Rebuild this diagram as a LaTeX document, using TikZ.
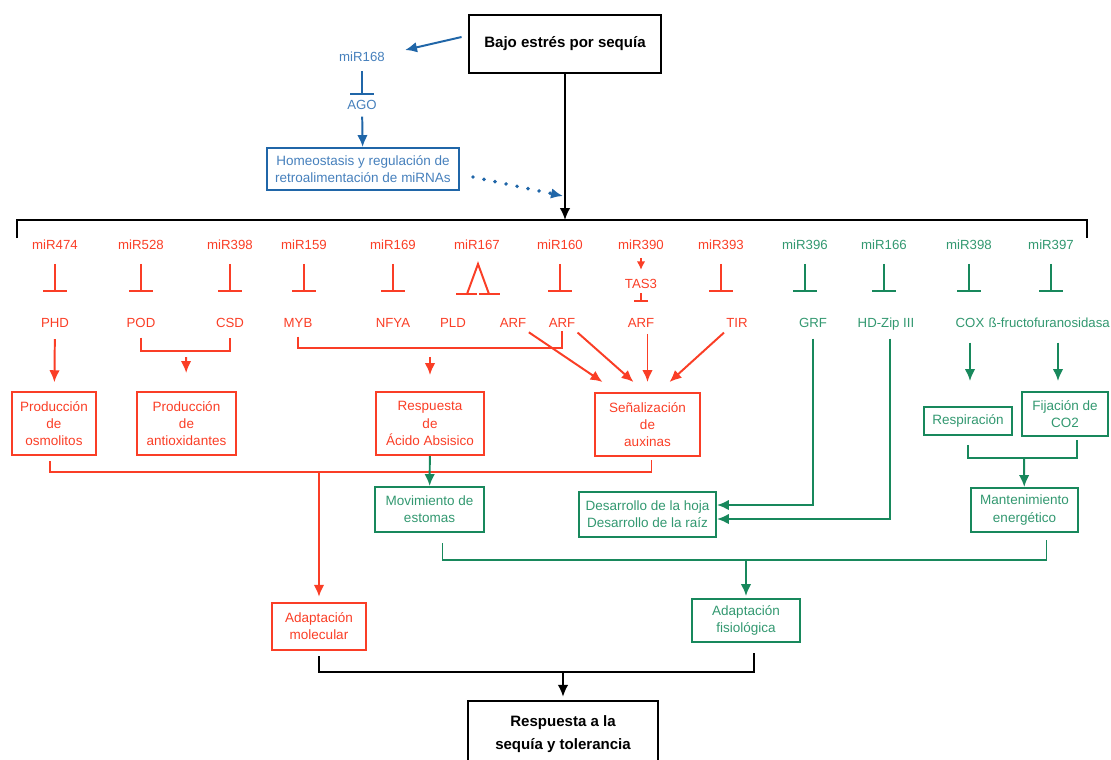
\documentclass[tikz,border=0pt]{standalone}
\usepackage{fontspec}
\setmainfont{Liberation Sans}
\usetikzlibrary{arrows.meta}
\usetikzlibrary{positioning}
\usetikzlibrary{calc}
\definecolor{sqred}{RGB}{250,62,38}
\definecolor{sqgreen}{RGB}{24,136,92}
\definecolor{sqgreentxt}{RGB}{50,152,112}
\definecolor{sqblue}{RGB}{32,102,168}
\definecolor{sqbluetxt}{RGB}{70,128,188}

\tikzset{
  lbl/.style={inner sep=0pt, text height=1.6ex, text depth=.4ex, font=\fontsize{9.4}{11}\selectfont},
  box/.style={draw, line width=1.4pt, align=center, inner sep=1pt, font=\fontsize{9.6}{12.2}\selectfont},
  redbox/.style={box, draw=sqred, text=sqred},
  greenbox/.style={box, draw=sqgreen, text=sqgreentxt},
  bigbox/.style={draw=black, line width=2pt, align=center, font=\fontsize{10.7}{16}\selectfont\bfseries},
  redline/.style={draw=sqred, line width=1.4pt},
  greenline/.style={draw=sqgreen, line width=1.4pt},
  inhib/.style={-{Bar[width=17pt]}, shorten <=0.28cm, shorten >=0.58cm},
  >={Latex[length=8.5pt,width=7.5pt]}
}

\begin{document}
\begin{tikzpicture}[x=0.025cm, y=-0.025cm]
  \useasboundingbox (0,0) rectangle (1111,759);

  % stress and miR168 loop
  \node[bigbox, minimum width=4.8cm, minimum height=1.45cm] (stress) at (565,44) {Bajo estrés por sequía};
  \begin{scope}[every node/.style={lbl, text=sqbluetxt}]
    \node (mir168) at (362,57) {miR168};
    \node (ago) at (362,105) {AGO};
  \end{scope}
  \node[box, draw=sqblue, text=sqbluetxt, minimum width=4.8cm, minimum height=1.05cm] (homeo) at (363,169)
    {Homeostasis y regulación de\\retroalimentación de miRNAs};
  \coordinate (fb) at (563,196);
  \coordinate (split) at (565,220);
  \coordinate (bl) at (17,238);
  \coordinate (br) at (1087,238);
  \begin{scope}[every edge/.style={draw=sqblue, line width=1.4pt, ->}]
    \path ($(stress.west)+(-6,-7)$) edge ($(mir168.east)+(20,-7)$);
    \path (mir168) edge[-{Bar[width=17pt]}, shorten <=0.16cm, shorten >=0.06cm] (ago);
    \path (ago) edge[shorten <=0.1cm] (homeo);
    \path ($(homeo.east)+(13,8)$) edge[line width=2.8pt, line cap=round, dash pattern=on 0pt off 8pt] (fb);
  \end{scope}
  \path (stress) edge[draw=black, line width=1.2pt, ->] (split);
  \draw[line width=1.2pt] (bl) -- ++(0,-18) -| (br);

  % miRNAs and targets
  \begin{scope}[every node/.style={lbl, text=sqred}]
    \node (m474) at (55,245) {miR474};
    \node (m528) at (141,245) {miR528};
    \node (m398a) at (230,245) {miR398};
    \node (m159) at (304,245) {miR159};
    \node (m169) at (393,245) {miR169};
    \node (m167) at (477,245) {miR167};
    \node (m160) at (560,245) {miR160};
    \node (m390) at (641,245) {miR390};
    \node (m393) at (721,245) {miR393};
    \node (tas3) at (641,284) {TAS3};
    \node (phd) at (55,323) {PHD};
    \node (pod) at (141,323) {POD};
    \node (csd) at (230,323) {CSD};
    \node (myb) at (298,323) {MYB};
    \node (nfya) at (393,323) {NFYA};
    \node (pld) at (453,323) {PLD};
    \node (arfA) at (513,323) {ARF};
    \node (arfB) at (562,323) {ARF};
    \node (arfC) at (641,323) {ARF};
    \node (tir) at (737,323) {TIR};
  \end{scope}
  \begin{scope}[every node/.style={lbl, text=sqgreentxt}]
    \node (m396) at (805,245) {miR396};
    \node (m166) at (884,245) {miR166};
    \node (m398b) at (969,245) {miR398};
    \node (m397) at (1051,245) {miR397};
    \node (grf) at (813,323) {GRF};
    \node (hdzip) at (886,323) {HD-Zip III};
    \node (cox) at (970,323) {COX};
    \node[anchor=east] (bfruc) at (1110,323) {ß-fructofuranosidasa};
  \end{scope}

  % boxes
  \node[redbox, minimum width=2.1cm, minimum height=1.575cm] (osmo) at (54,423.5) {Producción\\de\\osmolitos};
  \node[redbox, minimum width=2.475cm, minimum height=1.575cm] (antiox) at (186.5,423.5) {Producción\\de\\antioxidantes};
  \node[redbox, minimum width=2.7cm, minimum height=1.575cm] (aba) at (430,423.5) {Respuesta\\de\\Ácido Absisico};
  \node[redbox, minimum width=2.625cm, minimum height=1.575cm] (auxin) at (647.5,424.5) {Señalización\\de\\auxinas};
  \node[greenbox, minimum width=2.2cm, minimum height=0.7cm] (resp) at (968,421) {Respiración};
  \node[greenbox, minimum width=2.15cm, minimum height=1.1cm] (fija) at (1065,414) {Fijación de\\CO2};
  \node[greenbox, minimum width=2.725cm, minimum height=1.125cm] (estomas) at (429.5,509.5) {Movimiento de\\estomas};
  \node[greenbox, minimum width=3.425cm, minimum height=1.125cm] (desarrollo) at (647.5,514.5) {Desarrollo de la hoja\\Desarrollo de la raíz};
  \node[greenbox, minimum width=2.675cm, minimum height=1.1cm] (energia) at (1024.5,510) {Mantenimiento\\energético};
  \node[redbox, minimum width=2.35cm, minimum height=1.175cm] (molec) at (319,626.5) {Adaptación\\molecular};
  \node[greenbox, minimum width=2.7cm, minimum height=1.075cm] (fisio) at (746,620.5) {Adaptación\\fisiológica};
  \node[bigbox, minimum width=4.75cm, minimum height=1.65cm] (respuesta) at (563,734) {Respuesta a la\\sequía y tolerancia};

  \coordinate (apex) at (478,264);
  \coordinate (lleg) at (467,294);
  \coordinate (rleg) at (489,294);
  \coordinate (podmid) at (186,351);
  \coordinate (mybmid) at (430,348);
  \coordinate (redmid) at (319,471);
  \coordinate (rfmid) at (1024,458);
  \coordinate (greenmid) at (746,560);
  \coordinate (blackmid) at (563,672);
  \coordinate (fjin) at ($(fija.north)+(-7,0)$);

  % red paths
  \begin{scope}[every edge/.style={draw=sqred, line width=1.4pt, ->}]
    \foreach \m/\g in {m474/phd, m528/pod, m398a/csd, m159/myb, m169/nfya, m160/arfB, m393/tir}
      \path (\m.south) edge[inhib] (\m.south |- \g.north);
    \path (m390) edge[-{Latex[length=6pt,width=6pt]}, shorten <=0.13cm, shorten >=0.16cm] (tas3);
    \path (tas3) edge[-{Bar[width=10pt]}, shorten <=0.04cm, shorten >=0.33cm] (arfC);
    \path (phd) edge[shorten <=0.21cm, shorten >=0.22cm] (osmo);
    \path (podmid) edge[shorten <=0.15cm, shorten >=0.45cm] (antiox);
    \path (mybmid) edge[shorten <=0.22cm, shorten >=0.4cm] (aba);
    \path (arfA.south east) edge[shorten <=2pt] ($(auxin.north)+(-45,-10)$);
    \path (arfB.south east) edge[shorten <=2pt] ($(auxin.north)+(-14,-10)$);
    \path (arfC.south -| auxin.north) edge[shorten <=0.08cm] ($(auxin.north)+(0,-10)$);
    \path (tir.south west) edge[shorten <=2pt] ($(auxin.north)+(22,-10)$);
    \path (redmid) edge[shorten >=0.13cm] (molec);
  \end{scope}
  \draw[redline] (lleg) -- (apex) -- (rleg);
  \draw[redline] ($(lleg)+(-11,0)$) -- ++(21,0) ($(rleg)+(-10,0)$) -- ++(21,0);
  \draw[redline] ($(pod.south)+(0,7)$) |- (podmid) -| ($(csd.south)+(0,7)$);
  \draw[redline] ($(myb.south)+(0,6)$) |- (mybmid) -| (arfB.south);
  \draw[redline] ($(osmo.south)+(-4,5)$) -- ++(0,11) -| ($(auxin.south)+(4,3)$);

  % green paths
  \begin{scope}[every edge/.style={draw=sqgreen, line width=1.4pt, ->}]
    \foreach \m/\g in {m396/grf, m166/hdzip, m398b/cox, m397/bfruc}
      \path (\m.south) edge[inhib] (\m.south |- \g.north);
    \path (cox.south) edge[shorten <=0.3cm, shorten >=0.25cm] (cox.south |- fjin);
    \path (bfruc.south -| fjin) edge[shorten <=0.3cm, shorten >=0.25cm] (fjin);
    \path (aba) edge (estomas);
    \path (rfmid) edge (energia);
    \path (greenmid) edge[shorten >=0.05cm] (fisio);
  \end{scope}
  \draw[greenline, ->] ($(grf.south)+(0,8)$) |- ($(desarrollo.east)+(0,-9.5)$);
  \draw[greenline, ->] ($(hdzip.south)+(4,8)$) |- ($(desarrollo.east)+(0,4.5)$);
  \draw[greenline] ($(resp.south)+(0,9)$) |- (rfmid) -| ($(fija.south)+(12,3)$);
  \draw[greenline] ($(estomas.south)+(13,10)$) |- (greenmid) -| ($(energia.south)+(22,7)$);

  % final response
  \draw[line width=1.2pt] ($(molec.south)+(0,5)$) |- (blackmid) -| ($(fisio.south)+(8,10)$);
  \path (blackmid) edge[draw=black, line width=1.2pt, ->, shorten >=0.07cm] (respuesta);
\end{tikzpicture}
\end{document}
